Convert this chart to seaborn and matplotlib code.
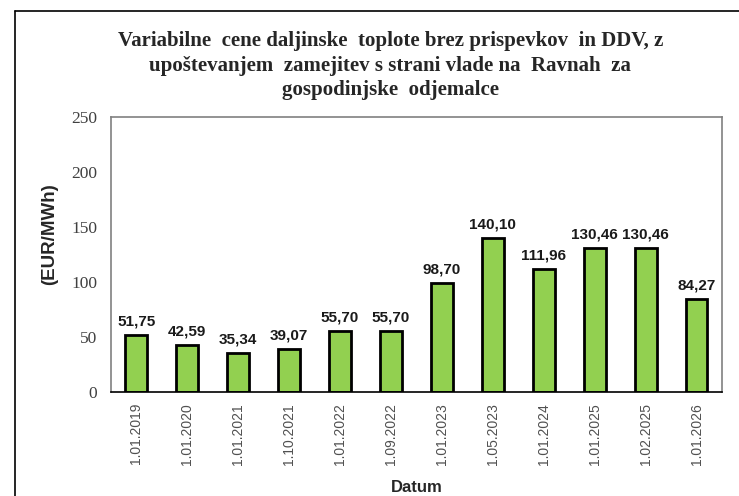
import matplotlib
matplotlib.use("Agg")
import matplotlib.pyplot as plt
import seaborn as sns
import pandas as pd
import numpy as np
from matplotlib.lines import Line2D

# podatki
datumi = ["1.01.2019", "1.01.2020", "1.01.2021", "1.10.2021", "1.01.2022", "1.09.2022",
          "1.01.2023", "1.05.2023", "1.01.2024", "1.01.2025", "1.02.2025", "1.01.2026"]
cene = [51.75, 42.59, 35.34, 39.07, 55.70, 55.70, 98.70, 140.10, 111.96, 130.46, 130.46, 84.27]
y_ticks = [0, 50, 100, 150, 200, 250]

naslov = ("Variabilne  cene daljinske  toplote brez prispevkov  in DDV, z\n"
          "upoštevanjem  zamejitev s strani vlade na  Ravnah  za\n"
          "gospodinjske  odjemalce")

df = pd.DataFrame({"Datum": datumi, "Cena": cene})

sns.set_style("white")
plt.rcParams['font.family'] = ['Liberation Sans', 'DejaVu Sans']

fig = plt.figure(figsize=(7.39, 4.96), dpi=100)
ax = fig.add_axes([0.150, 0.210, 0.827, 0.554])

sns.barplot(data=df, x="Datum", y="Cena", ax=ax, color="#92D050",
            edgecolor="black", linewidth=2, width=0.43, saturation=1)

# oznake vrednosti
for i, v in enumerate(cene):
    ax.text(i, v + 6, f"{v:.2f}".replace(".", ","), ha="center", va="bottom",
            fontsize=11, fontweight="bold", color="#1a1a1a")

ax.set_ylim(0, 250)
ax.set_xlim(-0.5, len(datumi) - 0.5)
ax.set_yticks(y_ticks)
ax.set_yticklabels([str(t) for t in y_ticks], family="Liberation Serif",
                   fontsize=12.5, color="#404040")
ax.tick_params(axis="y", length=4, color="#808080", direction="out", pad=6)

ax.set_xticks(range(len(datumi)))
ax.set_xticklabels(datumi, rotation=90, fontsize=10, color="#505050")
ax.tick_params(axis="x", length=0, pad=8)
ax.set_xticks(np.arange(-0.5, len(datumi)), minor=True)
ax.tick_params(axis="x", which="minor", length=7, width=1, color="black", direction="inout")

for s in ["top", "right", "left"]:
    ax.spines[s].set_color("#808080")
    ax.spines[s].set_linewidth(1.2)
ax.spines["bottom"].set_color("black")
ax.spines["bottom"].set_linewidth(1.2)

ax.set_xlabel("Datum", fontsize=12, fontweight="bold", labelpad=11)
ax.set_ylabel("(EUR/MWh)", fontsize=13.5, fontweight="bold")
ax.yaxis.set_label_coords(-0.087, 0.575)

fig.text(0.528, 0.937, naslov, ha="center", va="top", family="Liberation Serif",
         fontsize=15, fontweight="bold", linespacing=1.3)

# okvir slike
fig.add_artist(Line2D([0.020, 0.020], [0.0, 0.978], color="black", lw=1.2,
                      transform=fig.transFigure))
fig.add_artist(Line2D([0.020, 1.0], [0.978, 0.978], color="black", lw=1.2,
                      transform=fig.transFigure))

fig.savefig("out.png", dpi=100)
